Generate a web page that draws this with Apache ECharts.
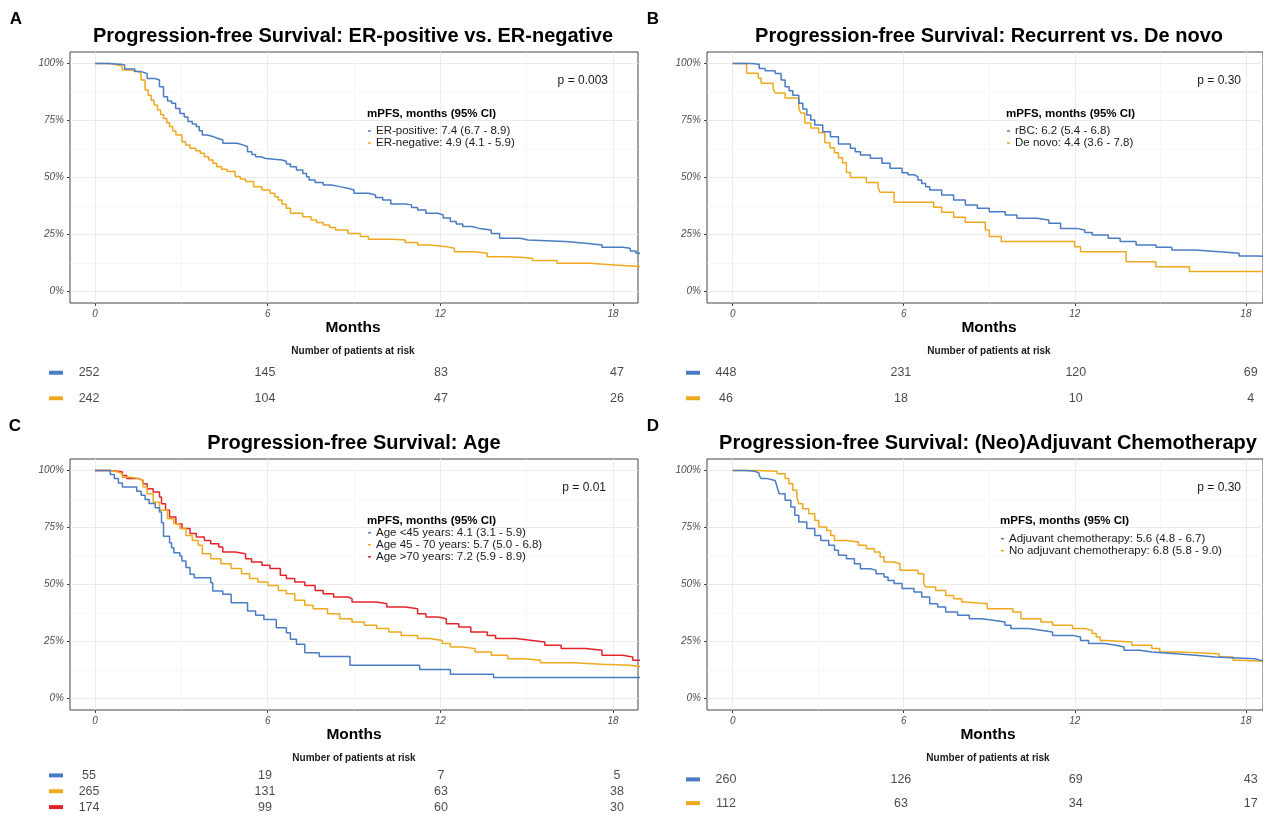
<!DOCTYPE html>
<html>
<head>
<meta charset="utf-8">
<script src="https://cdn.jsdelivr.net/npm/echarts@6/dist/echarts.min.js"></script>
<style>
  html, body { margin: 0; background: #fff; }
  #chart { width: 1263px; height: 815px; }
</style>
</head>
<body>
<div id="chart"></div>
<script>
// ---- data ----
const riskTimes = [0, 6, 12, 18];
const yTicks = [0, 25, 50, 75, 100];
const xTicks = [0, 6, 12, 18];

// A: ER-positive vs ER-negative, [months, % progression-free]
const erPositive = [[0,100],[0.45,99.6],[0.88,99.3],[1.03,97.5],[1.38,96.4],[1.6,95.6],[1.81,93.4],[2.09,92.7],[2.24,89.8],[2.38,85.4],[2.52,83.5],[2.66,82.5],[2.8,80.2],[2.95,78.1],[3.1,76.5],[3.23,74.5],[3.38,73.4],[3.52,72.3],[3.62,70.5],[3.73,68.6],[3.9,68],[4.09,67.2],[4.25,66.4],[4.44,65],[4.94,64.2],[5.16,63.5],[5.3,61.3],[5.45,60.1],[5.58,59.1],[5.76,58.3],[5.94,57.7],[6.51,57],[6.65,55.9],[6.79,54.7],[7,53.3],[7.22,51.8],[7.35,50.3],[7.44,48.9],[7.65,47.8],[7.93,46.7],[8.22,46],[8.5,45.3],[8.79,44.5],[9,43.1],[9.5,42.3],[9.75,41.2],[10,40.1],[10.28,38.4],[10.78,38],[11,36.9],[11.21,35.8],[11.5,34.3],[11.92,33.6],[12.1,32.2],[12.35,30.7],[12.55,29.6],[12.78,28.5],[13.1,27.7],[13.35,27],[13.77,25.5],[14.06,23.4],[14.77,22.6],[15.06,21.9],[16.34,21.2],[17.05,20.4],[17.62,19.4],[18.33,19],[18.6,17.8],[18.8,16.8],[19,16.8]];
const erNegative = [[0,100],[0.53,99.3],[0.81,98.5],[0.95,97.1],[1.24,96.4],[1.52,95.6],[1.6,92.7],[1.74,88.3],[1.85,86],[1.95,83.9],[2.05,81.8],[2.17,79.6],[2.28,77.6],[2.38,75.9],[2.49,74],[2.59,72.3],[2.7,70.4],[2.81,68.6],[3.02,65.7],[3.15,64.2],[3.3,62.8],[3.5,61.7],[3.66,60.6],[3.8,59.1],[3.95,57.7],[4.1,56.2],[4.23,54.7],[4.4,53.6],[4.59,52.6],[4.87,50.4],[5.05,49.3],[5.23,48.2],[5.51,46],[5.8,44.5],[6.08,43.1],[6.25,41.6],[6.37,40.1],[6.5,38.3],[6.65,36.5],[6.79,34.3],[7.22,32.8],[7.51,31.4],[7.7,30.3],[7.93,29.2],[8.15,28.1],[8.36,27],[8.79,25.5],[9.22,24.1],[9.5,22.9],[10.36,22.6],[10.78,21.5],[11.21,20.4],[11.64,19.7],[12.21,19],[12.49,17.5],[13.2,16.8],[13.63,15.3],[14.34,15],[14.77,14.6],[15.2,13.6],[16.05,12.4],[17.19,11.7],[18.05,10.9],[19,10.9]];

// B: recurrent (rBC) vs de novo
const recurrent = [[0,100],[0.65,99.6],[0.93,97.8],[1.14,96.8],[1.49,95.6],[1.7,92.7],[1.84,89.8],[1.98,88],[2.11,86.1],[2.32,82.5],[2.46,80],[2.6,77.4],[2.74,75.2],[2.88,73],[3.16,70.1],[3.43,67.9],[3.71,64.7],[4.13,62.8],[4.3,61.3],[4.48,59.9],[4.83,58.4],[5.24,56.2],[5.52,54],[5.94,52.1],[6.15,51.2],[6.36,50.4],[6.5,48.9],[6.63,47.4],[6.77,45.9],[6.91,44.5],[7.33,42.3],[7.75,40.1],[8.16,38],[8.58,36.5],[9,35],[9.56,33.6],[9.97,32.1],[10.67,31.4],[11.09,29.9],[11.5,27.7],[12.06,27],[12.35,25.9],[12.61,24.8],[13.17,23.4],[13.59,21.9],[14.15,20.4],[14.85,19.4],[15.4,18.2],[16.23,17.5],[17.07,16.8],[17.76,15.6],[18.4,15.3],[19,15.3]];
const deNovo = [[0,100],[0.49,95.7],[0.9,93.5],[1,91.3],[1.42,89.1],[1.49,87],[1.84,84.8],[2.32,80.4],[2.39,78.3],[2.53,73.9],[2.74,71.7],[3.02,69.6],[3.23,65.2],[3.41,63],[3.57,60.9],[3.71,58.7],[3.85,56.5],[3.99,52.2],[4.13,50],[4.69,47.8],[5.1,45.7],[5.17,43.5],[5.66,39.1],[7.05,37],[7.33,34.8],[7.75,32.6],[8.16,30.4],[8.86,27],[9,24.1],[9.42,21.9],[11.99,19.7],[12.2,17.5],[13.8,13.1],[14.84,10.9],[16.02,8.8],[19,8.8]];

// C: age groups
const ageUnder45 = [[0,100],[0.53,98.2],[0.67,96.4],[0.81,94.5],[0.95,92.7],[1.45,90.9],[1.6,89.1],[1.74,87.3],[1.88,85.5],[2.09,83.6],[2.24,81.8],[2.31,77.1],[2.38,71.2],[2.59,68.3],[2.66,66.1],[2.74,63.9],[2.95,62.5],[3.02,60.3],[3.16,57.4],[3.3,54.5],[3.45,53],[4.02,50.8],[4.09,47.2],[4.44,45.7],[4.73,42],[5.3,38.4],[5.58,36.5],[5.87,34.7],[6.3,31.1],[6.65,28.9],[6.79,26],[7,23.8],[7.29,20.1],[7.79,18.4],[8.86,14.6],[11.28,12.8],[12.35,10.7],[13.85,9.2],[19,9.2]];
const age45to70 = [[0,100],[0.53,99.3],[0.81,98.5],[0.95,97],[1.24,96.4],[1.52,95.6],[1.67,92.7],[1.81,89.8],[2.02,86.1],[2.24,82.5],[2.52,78.8],[2.74,76.6],[2.95,74.5],[3.16,71.5],[3.38,69.3],[3.59,67.2],[3.73,63.5],[4.02,61.3],[4.37,59.1],[4.73,57],[5.09,54.7],[5.37,52.6],[5.66,51.1],[6.01,49.6],[6.37,47.4],[6.65,46],[6.94,43.1],[7.29,40.9],[7.58,39.4],[8.08,37.2],[8.5,35],[8.93,33.6],[9.36,32.1],[9.79,30.7],[10.21,29.2],[10.64,27.7],[11.21,26.3],[11.64,25.5],[12.07,24.1],[12.35,22.6],[12.78,21.9],[13.21,20.4],[13.77,19],[14.34,17.5],[14.91,16.8],[15.48,15.7],[16.62,15],[17.62,14.6],[18.6,13.9],[19,13.6]];
const ageOver70 = [[0,100],[0.53,99.6],[0.81,99.3],[0.95,97.8],[1.1,96.4],[1.52,95.6],[1.67,94.2],[1.81,92],[2.02,90.5],[2.24,88.3],[2.31,85.4],[2.45,82.5],[2.59,79.6],[2.81,76.6],[3.02,74.5],[3.3,72.3],[3.52,70.8],[3.8,69.3],[4.02,67.9],[4.3,66.4],[4.44,64.2],[4.87,63.5],[5.23,61.3],[5.44,59.9],[5.8,58.4],[6.08,57],[6.44,54],[6.65,52.6],[6.94,51.1],[7.29,49.6],[7.65,47.4],[7.93,46],[8.29,44.5],[8.79,43.8],[8.93,42.3],[9.79,41.6],[10.14,40.1],[10.78,39.4],[11.21,37.2],[11.5,35.8],[11.92,35],[12.21,32.8],[12.64,31.4],[13.06,29.2],[13.63,27.7],[13.92,26.3],[14.63,25.5],[15.2,24.8],[15.63,23.4],[16.2,21.9],[17.05,21.2],[17.62,19],[18.33,18.2],[18.69,16.8],[19,16.1]];

// D: (neo)adjuvant chemotherapy
const adjuvant = [[0,100],[0.45,99.6],[0.79,98.8],[0.93,97.8],[1,96.4],[1.21,95.6],[1.49,94.9],[1.56,92.7],[1.63,89.8],[1.84,86.9],[2.04,84],[2.18,80.3],[2.32,77.4],[2.6,74.5],[2.88,71.5],[3.09,69.3],[3.37,67.2],[3.57,65],[3.71,62.8],[3.99,61.3],[4.27,59.1],[4.48,56.9],[4.83,56.2],[5.03,54.7],[5.31,53.3],[5.45,51.8],[5.66,50.4],[5.94,48.2],[6.36,46.7],[6.63,44.5],[6.91,41.6],[7.19,40.1],[7.47,38],[7.89,36.5],[8.3,35],[8.72,34.3],[9.14,33.6],[9.55,32.1],[9.76,30.7],[10.39,30],[10.81,29.2],[11.22,27.7],[11.92,27],[12.2,25.5],[12.48,24.1],[13.03,23.4],[13.45,22.6],[13.73,21.2],[14.28,20.4],[14.7,19.7],[15.54,19],[16.23,18.2],[16.93,17.5],[18.32,16.8],[18.5,16.1],[19,16.1]];
const noAdjuvant = [[0,100],[0.86,99.6],[1.56,98.5],[1.84,96.4],[1.97,94.2],[2.11,91.3],[2.25,88.3],[2.32,85.4],[2.46,83.2],[2.67,81],[2.88,78.1],[3.02,75.2],[3.3,73.7],[3.44,71.5],[3.57,69.3],[3.99,68.6],[4.41,67.2],[4.69,65.7],[4.97,64.2],[5.17,62],[5.31,59.9],[5.66,59.1],[5.87,56.2],[6.5,54.7],[6.7,50.4],[6.77,48.9],[7.12,47.4],[7.47,45.2],[7.75,43.8],[8.03,42.3],[8.16,41.6],[8.93,39.4],[9.83,37.9],[10.11,35],[10.81,33.6],[11.22,32.1],[11.92,30.7],[12.34,29.9],[12.61,28.5],[12.75,27],[12.89,25.5],[13.1,24.8],[14,23.4],[14.7,21.9],[14.98,20.4],[15.67,19.7],[17.06,18.2],[17.55,16.8],[17.76,16.1],[19,16.1]];

// patients at risk at 0, 6, 12, 18 months
const riskErPositive = [252, 145, 83, 47];
const riskErNegative = [242, 104, 47, 26];
const riskRecurrent = [448, 231, 120, 69];
const riskDeNovo = [46, 18, 10, 4];
const riskUnder45 = [55, 19, 7, 5];
const risk45to70 = [265, 131, 63, 38];
const riskOver70 = [174, 99, 60, 30];
const riskAdjuvant = [260, 126, 69, 43];
const riskNoAdjuvant = [112, 63, 34, 17];

// ---- look ----
const FONT = '"Liberation Sans", Arial, sans-serif';
const BLUE = '#4a7cc4', ORANGE = '#eea91f', RED = '#e3242b';

const panels = [
  { letter: 'A', title: 'Progression-free Survival: ER-positive vs. ER-negative', p: 'p = 0.003',
    left: 70, width: 568, top: 52, xMin: -0.87, xMax: 18.87, rTop: 360, rMin: -0.65, rMax: 18.72,
    cx: 353, letterX: 16, pX: 608, legX: 368, legTop: 125, legGap: 12,
    curves: [
      { name: 'ER-positive: 7.4 (6.7 - 8.9)', data: erPositive, risk: riskErPositive, color: BLUE },
      { name: 'ER-negative: 4.9 (4.1 - 5.9)', data: erNegative, risk: riskErNegative, color: ORANGE }
    ] },
  { letter: 'B', title: 'Progression-free Survival: Recurrent vs. De novo', p: 'p = 0.30',
    left: 707, width: 557, top: 52, xMin: -0.9, xMax: 18.6, rTop: 360, rMin: -0.65, rMax: 18.42,
    cx: 989, letterX: 653, pX: 1241, legX: 1007, legTop: 125, legGap: 12,
    curves: [
      { name: 'rBC: 6.2 (5.4 - 6.8)', data: recurrent, risk: riskRecurrent, color: BLUE },
      { name: 'De novo: 4.4 (3.6 - 7.8)', data: deNovo, risk: riskDeNovo, color: ORANGE }
    ] },
  { letter: 'C', title: 'Progression-free Survival: Age', p: 'p = 0.01',
    left: 70, width: 568, top: 459, xMin: -0.87, xMax: 18.87, rTop: 767.5, rMin: -0.65, rMax: 18.72,
    cx: 354, letterX: 15, pX: 606, legX: 368, legTop: 526.8, legGap: 11.7,
    curves: [
      { name: 'Age <45 years: 4.1 (3.1 - 5.9)', data: ageUnder45, risk: riskUnder45, color: BLUE },
      { name: 'Age 45 - 70 years: 5.7 (5.0 - 6.8)', data: age45to70, risk: risk45to70, color: ORANGE },
      { name: 'Age >70 years: 7.2 (5.9 - 8.9)', data: ageOver70, risk: riskOver70, color: RED }
    ] },
  { letter: 'D', title: 'Progression-free Survival: (Neo)Adjuvant Chemotherapy', p: 'p = 0.30',
    left: 707, width: 557, top: 459, xMin: -0.9, xMax: 18.6, rTop: 767.5, rMin: -0.65, rMax: 18.42,
    cx: 988, letterX: 653, pX: 1241, legX: 1001, legTop: 532.7, legGap: 11.6,
    curves: [
      { name: 'Adjuvant chemotherapy: 5.6 (4.8 - 6.7)', data: adjuvant, risk: riskAdjuvant, color: BLUE },
      { name: 'No adjuvant chemotherapy: 6.8 (5.8 - 9.0)', data: noAdjuvant, risk: riskNoAdjuvant, color: ORANGE }
    ] }
];

const grid = [], xAxis = [], yAxis = [], series = [], legend = [], graphic = [];

function label(x, y, text, size, weight, align, color) {
  graphic.push({
    type: 'text', x: x, y: y, silent: true, z: 100,
    style: {
      text: text, fontSize: size, fontWeight: weight || 'normal', fontFamily: FONT,
      fill: color || '#000', textAlign: align || 'center', textVerticalAlign: 'middle',
      align: align || 'center', verticalAlign: 'middle'
    }
  });
}

const gridLines = [];
[0, 25, 50, 75, 100].forEach(v => gridLines.push({ yAxis: v, lineStyle: { color: '#ebebeb', width: 1, type: 'solid' } }));
[12.5, 37.5, 62.5, 87.5].forEach(v => gridLines.push({ yAxis: v, lineStyle: { color: '#f2f2f2', width: 0.6, type: 'solid' } }));
[0, 6, 12, 18].forEach(v => gridLines.push({ xAxis: v, lineStyle: { color: '#ebebeb', width: 1, type: 'solid' } }));
[3, 9, 15].forEach(v => gridLines.push({ xAxis: v, lineStyle: { color: '#f2f2f2', width: 0.6, type: 'solid' } }));

panels.forEach((p, i) => {
  const g = 2 * i, r = 2 * i + 1;
  const rowHeight = 51;

  grid.push({ left: p.left, top: p.top, width: p.width, height: 251, show: true,
              borderColor: '#444', borderWidth: 1, backgroundColor: 'transparent' });
  grid.push({ left: p.left, top: p.rTop, width: p.width, height: rowHeight });

  xAxis.push({
    type: 'value', gridIndex: g, min: p.xMin, max: p.xMax,
    axisLine: { show: false, onZero: false },
    splitLine: { show: false },
    axisTick: { show: true, customValues: xTicks, length: 3, lineStyle: { color: '#444' } },
    axisLabel: { customValues: xTicks, fontStyle: 'italic', fontSize: 10, color: '#4d4d4d', margin: 6, fontFamily: FONT }
  });
  yAxis.push({
    type: 'value', gridIndex: g, min: -5, max: 105,
    axisLine: { show: false, onZero: false },
    splitLine: { show: false },
    axisTick: { show: true, customValues: yTicks, length: 3, lineStyle: { color: '#444' } },
    axisLabel: { customValues: yTicks, formatter: '{value}%', fontStyle: 'italic', fontSize: 10, color: '#4d4d4d', margin: 6, fontFamily: FONT }
  });

  const rich = {};
  p.curves.forEach((c, k) => { rich['c' + k] = { backgroundColor: c.color, width: 14, height: 4, fontSize: 4, lineHeight: 4 }; });
  xAxis.push({ type: 'value', gridIndex: r, min: p.rMin, max: p.rMax, show: false });
  yAxis.push({
    type: 'category', gridIndex: r, inverse: true,
    data: p.curves.map(c => c.name),
    axisLine: { show: false }, axisTick: { show: false }, splitLine: { show: false },
    axisLabel: { margin: 7, formatter: (v, idx) => '{c' + idx + '| }', rich: rich }
  });

  // panel grid lines, kept underneath the curves
  series.push({
    type: 'line', xAxisIndex: g, yAxisIndex: g, data: [[0, 100]], silent: true, z: 0, zlevel: 0,
    showSymbol: false, lineStyle: { opacity: 0 }, animation: false,
    markLine: { silent: true, symbol: 'none', animation: false, z: 0, label: { show: false }, data: gridLines }
  });

  p.curves.forEach((c, k) => {
    series.push({
      type: 'line', name: c.name, data: c.data, step: 'end', xAxisIndex: g, yAxisIndex: g,
      showSymbol: false, symbol: 'none', clip: true, z: 10 + (p.curves.length - k), animation: false,
      lineStyle: { color: c.color, width: 1.5 }, itemStyle: { color: c.color }
    });
    series.push({
      type: 'scatter', xAxisIndex: r, yAxisIndex: r, silent: true, animation: false,
      data: riskTimes.map((t, j) => [t, k, c.risk[j]]),
      symbolSize: 1, itemStyle: { color: 'rgba(0,0,0,0)' },
      label: { show: true, position: 'inside', formatter: d => d.value[2], fontSize: 12.5, color: '#1a1a1a', fontFamily: FONT }
    });
  });

  legend.push({
    data: p.curves.map(c => ({ name: c.name, itemStyle: { color: c.color } })),
    orient: 'vertical', left: p.legX, top: p.legTop, padding: 0, itemGap: 0, z: 100,
    icon: 'rect', itemWidth: 3, itemHeight: 1.5, selectedMode: false,
    textStyle: { fontFamily: FONT, fontSize: 11.5, color: '#1a1a1a', lineHeight: p.legGap }
  });

  const py = p.top; // panel vertical origin
  label(p.letterX, py - 33, p.letter, 17, 'bold', 'center');
  label(p.cx, py - 16, p.title, 20, 'bold', 'center');
  label(p.pX, py + 28.5, p.p, 12, 'normal', 'right', '#1a1a1a');
  label(p.legX - 1, py + 62, 'mPFS, months (95% CI)', 11.5, 'bold', 'left');
  label(p.cx, py + 275.5, 'Months', 15.5, 'bold', 'center');
  label(p.cx, py + 299.5, 'Number of patients at risk', 10, 'bold', 'center', '#1a1a1a');
});

const chart = echarts.init(document.getElementById('chart'), null, { renderer: 'canvas' });
chart.setOption({
  animation: false,
  backgroundColor: '#fff',
  textStyle: { fontFamily: FONT },
  grid: grid, xAxis: xAxis, yAxis: yAxis, legend: legend, series: series, graphic: graphic
});
</script>
</body>
</html>
